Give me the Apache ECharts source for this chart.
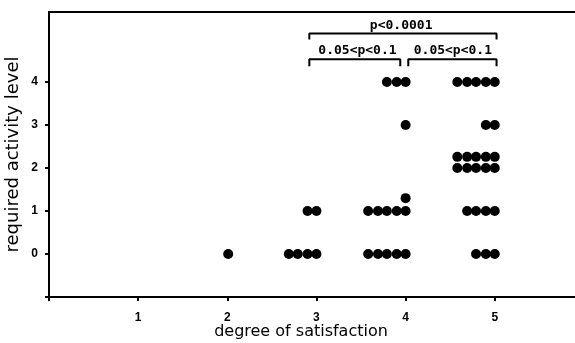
<!DOCTYPE html>
<html>
<head>
<meta charset="utf-8">
<script src="https://cdn.jsdelivr.net/npm/echarts@6/dist/echarts.min.js"></script>
<style>
html,body{margin:0;padding:0;background:#fff;}
#chart{width:575px;height:343px;}
</style>
</head>
<body>
<div id="chart"></div>
<script>
// ---- data ----
var xTickLabels = [1, 2, 3, 4, 5];
var yTickLabels = [0, 1, 2, 3, 4];
// satisfaction = 2
var group2 = [[2.01, 0]];
// satisfaction = 3
var group3 = [[2.69, 0], [2.79, 0], [2.9, 0], [3.0, 0], [2.9, 1], [3.0, 1]];
// satisfaction = 4
var group4 = [[3.79, 4], [3.9, 4], [4.0, 4], [4.0, 3], [4.0, 1.3],
  [3.58, 1], [3.69, 1], [3.79, 1], [3.9, 1], [4.0, 1],
  [3.58, 0], [3.69, 0], [3.79, 0], [3.9, 0], [4.0, 0]];
// satisfaction = 5
var group5 = [[4.58, 4], [4.69, 4], [4.79, 4], [4.9, 4], [5.0, 4],
  [4.9, 3], [5.0, 3],
  [4.58, 2.26], [4.69, 2.26], [4.79, 2.26], [4.9, 2.26], [5.0, 2.26],
  [4.58, 2], [4.69, 2], [4.79, 2], [4.9, 2], [5.0, 2],
  [4.69, 1], [4.79, 1], [4.9, 1], [5.0, 1],
  [4.79, 0], [4.9, 0], [5.0, 0]];
// significance brackets
var bracketAll = [[2.92, 4.99], [2.92, 5.13], [5.02, 5.13], [5.02, 4.99]];
var bracket34 = [[2.92, 4.37], [2.92, 4.53], [3.94, 4.53], [3.94, 4.37]];
var bracket45 = [[4.03, 4.37], [4.03, 4.53], [5.02, 4.53], [5.02, 4.37]];
var bracketLabels = [[3.95, 5.31, 'p<0.0001'], [3.46, 4.72, '0.05<p<0.1'], [4.53, 4.72, '0.05<p<0.1']];

var chart = echarts.init(document.getElementById('chart'), null, {renderer: 'canvas'});
var dotStyle = {color: '#000', opacity: 1};
function bracketSeries(d) {
  return {type: 'line', data: d, symbol: 'none', silent: true,
    lineStyle: {color: '#000', width: 2, opacity: 1}, z: 3};
}
var option = {
  backgroundColor: '#fff',
  animation: false,
  grid: {left: 49, right: 0, top: 12, bottom: 46, containLabel: false, outerBoundsMode: 'none'},
  xAxis: [{
    type: 'value', min: 0, max: 5.9, interval: 1,
    name: 'degree of satisfaction', nameLocation: 'middle', nameGap: 27, nameMoveOverlap: false,
    nameTextStyle: {color: '#000', fontSize: 16, fontFamily: 'DejaVu Sans', padding: [0, 0, 0, -22]},
    axisLine: {show: true, onZero: false, lineStyle: {color: '#000', width: 2}},
    axisTick: {show: true, length: 4, customValues: [0, 1, 2, 3, 4, 5], lineStyle: {color: '#000', width: 2}},
    axisLabel: {customValues: xTickLabels, color: '#000', fontSize: 12, fontWeight: 'bold', fontFamily: 'Liberation Sans', margin: 15},
    splitLine: {show: false}
  }, {
    type: 'value', position: 'top', min: 0, max: 5.9,
    axisLine: {show: true, onZero: false, lineStyle: {color: '#000', width: 2}},
    axisTick: {show: false}, axisLabel: {show: false}, splitLine: {show: false}
  }],
  yAxis: {
    type: 'value', min: -1, max: 5.63, interval: 1,
    name: 'required activity level', nameLocation: 'middle', nameGap: 27, nameRotate: 90, nameMoveOverlap: false,
    nameTextStyle: {color: '#000', fontSize: 18, fontFamily: 'DejaVu Sans'},
    axisLine: {show: true, onZero: false, lineStyle: {color: '#000', width: 2}},
    axisTick: {show: true, length: 4, customValues: [-1, 0, 1, 2, 3, 4], lineStyle: {color: '#000', width: 2}},
    axisLabel: {customValues: yTickLabels, color: '#000', fontSize: 12, fontWeight: 'bold', fontFamily: 'Liberation Sans', margin: 11},
    splitLine: {show: false}
  },
  series: [
    {type: 'scatter', data: group2, symbolSize: 10, itemStyle: dotStyle},
    {type: 'scatter', data: group3, symbolSize: 10, itemStyle: dotStyle},
    {type: 'scatter', data: group4, symbolSize: 10, itemStyle: dotStyle},
    {type: 'scatter', data: group5, symbolSize: 10, itemStyle: dotStyle},
    bracketSeries(bracketAll),
    bracketSeries(bracket34),
    bracketSeries(bracket45),
    {type: 'scatter', data: bracketLabels, symbolSize: 0, silent: true, itemStyle: {opacity: 1},
      label: {show: true, position: 'inside', formatter: function (p) { return p.value[2]; },
        color: '#000', opacity: 1, fontSize: 13, fontWeight: 'bold', fontFamily: 'DejaVu Sans Mono'}}
  ]
};
chart.setOption(option);
</script>
</body>
</html>
